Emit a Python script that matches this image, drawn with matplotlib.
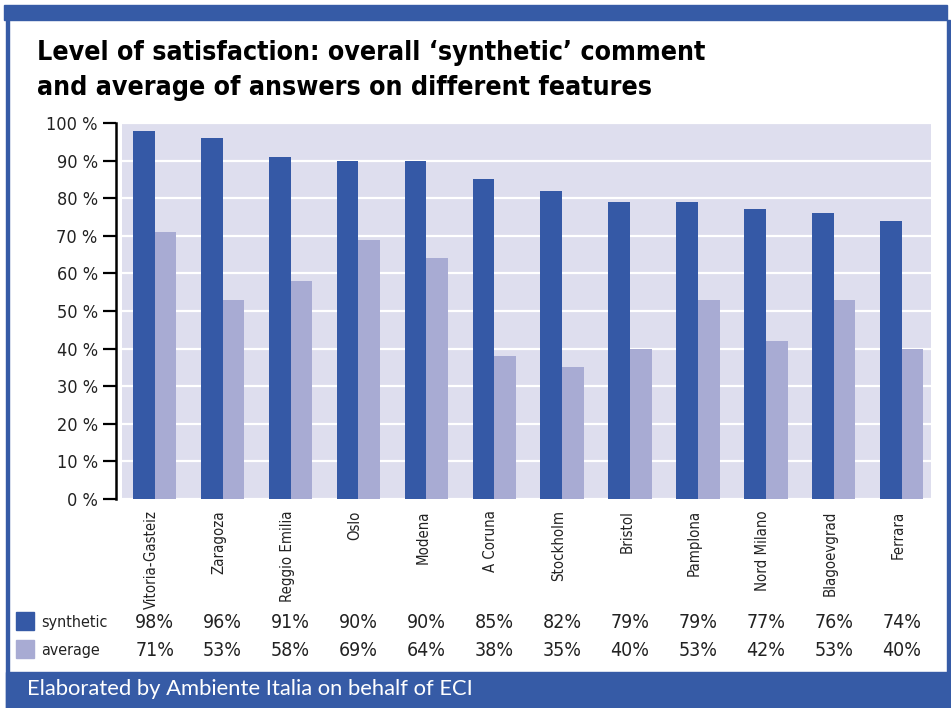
import matplotlib
matplotlib.use('Agg')
import matplotlib.pyplot as plt
import numpy as np
from matplotlib.patches import Rectangle

# data
cities = ['Vitoria-Gasteiz', 'Zaragoza', 'Reggio Emilia', 'Oslo', 'Modena',
          'A Coruna', 'Stockholm', 'Bristol', 'Pamplona', 'Nord Milano',
          'Blagoevgrad', 'Ferrara']
synthetic = [98, 96, 91, 90, 90, 85, 82, 79, 79, 77, 76, 74]
average = [71, 53, 58, 69, 64, 38, 35, 40, 53, 42, 53, 40]
yticks = [0, 10, 20, 30, 40, 50, 60, 70, 80, 90, 100]

DARK = '#3559A6'
LIGHT = '#A8ABD3'
BG = '#DEDEEE'
BAND = '#365BA6'
TXT = '#222222'
NARROW = ['Liberation Sans Narrow', 'DejaVu Sans']

plt.rcParams['font.family'] = NARROW
plt.rcParams['font.stretch'] = 'condensed'
plt.rcParams['ytick.labelsize'] = 13
plt.rcParams['ytick.labelcolor'] = TXT

W, H = 951, 708
fig = plt.figure(figsize=(W / 100, H / 100), dpi=100)

def fx(px):
    return px / W

def fy(py):
    return 1 - py / H

# frame bands
fig.patches.append(Rectangle((fx(4), fy(20)), fx(947 - 4), 15 / H,
                             transform=fig.transFigure, color=BAND, zorder=0))
fig.patches.append(Rectangle((fx(6), fy(708)), fx(2.5), 688 / H,
                             transform=fig.transFigure, color=BAND, zorder=0))
fig.patches.append(Rectangle((fx(947), fy(708)), fx(3), 688 / H,
                             transform=fig.transFigure, color=BAND, zorder=0))
fig.patches.append(Rectangle((fx(6), 0), 1 - fx(6), 36 / H,
                             transform=fig.transFigure, color=BAND, zorder=0))

# title
fig.text(fx(37), fy(60), "Level of satisfaction: overall \u2018synthetic\u2019 comment",
         fontsize=19.2, fontweight='bold', color='black', va='baseline')
fig.text(fx(37), fy(95), "and average of answers on different features",
         fontsize=19.2, fontweight='bold', color='black', va='baseline')

# main axes
ax = fig.add_axes([fx(122), fy(499), fx(931 - 122), (499 - 123) / H])
ax.set_facecolor(BG)
x = np.arange(len(cities))
w = 0.32
ax.bar(x - w / 2, synthetic, w, color=DARK, zorder=3)
ax.bar(x + w / 2, average, w, color=LIGHT, zorder=3)
ax.set_xlim(-0.482, 11.432)
ax.set_ylim(0, 100)
ax.set_yticks(yticks)
ax.set_yticklabels([f'{v} %' for v in yticks])
ax.yaxis.grid(True, color='white', lw=1.6, zorder=1)
ax.set_axisbelow(True)
ax.set_xticks([])
for s in ['top', 'right', 'bottom']:
    ax.spines[s].set_visible(False)
ax.spines['left'].set_position(('outward', 4))
ax.spines['left'].set_linewidth(1.8)
ax.tick_params(axis='y', length=9.5, width=1.6, pad=4, color='black')

# city labels
for i, c in enumerate(cities):
    ax.text(i - 0.05, -0.03, c, transform=ax.get_xaxis_transform(),
            rotation=90, ha='center', va='top', fontsize=10.7, color=TXT)

# table below
for i in range(len(cities)):
    xf = ax.transData.transform((i, 0))[0] / W
    fig.text(xf, fy(623), f'{synthetic[i]}%', ha='center', va='center',
             fontsize=14, color=TXT)
    fig.text(xf, fy(651), f'{average[i]}%', ha='center', va='center',
             fontsize=14, color=TXT)

fig.patches.append(Rectangle((fx(16), fy(630)), fx(18), 18 / H,
                             transform=fig.transFigure, color=DARK))
fig.patches.append(Rectangle((fx(16), fy(658)), fx(18), 18 / H,
                             transform=fig.transFigure, color=LIGHT))
fig.text(fx(41), fy(623), 'synthetic', ha='left', va='center', fontsize=11.5,
         color=TXT)
fig.text(fx(41), fy(651), 'average', ha='left', va='center', fontsize=11.5,
         color=TXT)

# footer
fig.text(fx(27), fy(689), 'Elaborated by Ambiente Italia on behalf of ECI',
         ha='left', va='center', fontsize=15.8, family=['Lato', 'DejaVu Sans'],
         fontstretch='normal', color='white')

fig.savefig('out.png', dpi=100)
